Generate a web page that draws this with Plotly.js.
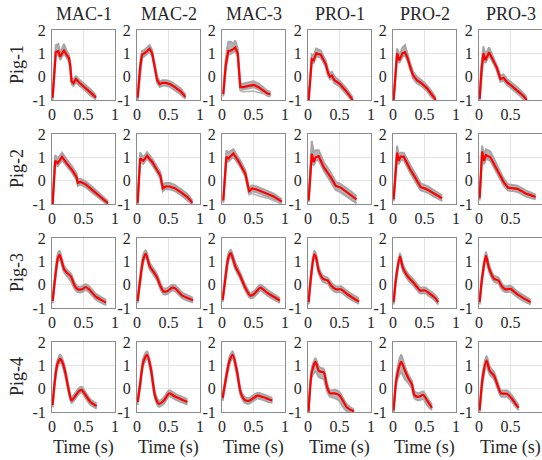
<!DOCTYPE html>
<html>
<head>
<meta charset="utf-8">
<script src="https://cdn.plot.ly/plotly-3.0.1.min.js"></script>
<style>html,body{margin:0;padding:0;background:#fff}#chart{width:542px;height:460px}</style>
</head>
<body>
<div id="chart"></div>
<script>
// ---- labels ----
const colNames = ['MAC-1','MAC-2','MAC-3','PRO-1','PRO-2','PRO-3'];
const rowNames = ['Pig-1','Pig-2','Pig-3','Pig-4'];
const xTickVals = [0, 0.5, 1];
const xTickText = ['0', '0.5', '1'];
const yTickVals = [-1, 0, 1, 2];
const yTickText = ['-1', '0', '1', '2'];
const xLabel = 'Time (s)';

// ---- Pig-1 ----
const t_1_1 = [0.01,0.06,0.10,0.13,0.16,0.19,0.23,0.27,0.29,0.31,0.34,0.38,0.43,0.50,0.60,0.70];
const mean_1_1 = [-0.9,1.05,1.1,0.85,1.0,1.12,0.95,0.78,0.45,-0.2,-0.28,-0.1,-0.25,-0.4,-0.65,-0.9];
const hi_1_1 = [-0.8,1.35,1.4,1.05,1.2,1.4,1.12,0.92,0.6,-0.05,-0.12,0.02,-0.12,-0.28,-0.52,-0.8];
const lo_1_1 = [-1.0,0.9,0.95,0.72,0.85,0.98,0.82,0.65,0.3,-0.32,-0.4,-0.25,-0.38,-0.52,-0.78,-0.98];

const t_1_2 = [0.01,0.05,0.08,0.12,0.16,0.20,0.24,0.28,0.32,0.36,0.40,0.46,0.53,0.60,0.69,0.77];
const mean_1_2 = [-0.9,0.4,0.95,1.0,1.1,1.2,1.0,0.5,-0.15,-0.32,-0.27,-0.27,-0.33,-0.45,-0.63,-0.87];
const hi_1_2 = [-0.8,0.6,1.1,1.15,1.25,1.35,1.15,0.65,0.0,-0.2,-0.15,-0.15,-0.2,-0.33,-0.5,-0.77];
const lo_1_2 = [-1.0,0.2,0.82,0.88,0.98,1.08,0.88,0.38,-0.28,-0.44,-0.39,-0.39,-0.45,-0.57,-0.75,-0.95];

const t_1_3 = [0.02,0.06,0.10,0.14,0.18,0.21,0.25,0.29,0.33,0.40,0.50,0.58,0.66,0.72,0.77];
const mean_1_3 = [-0.75,0.5,1.1,1.12,1.18,1.25,1.0,-0.45,-0.45,-0.4,-0.35,-0.45,-0.6,-0.72,-0.75];
const hi_1_3 = [-0.65,0.8,1.5,1.5,1.4,1.55,1.2,-0.3,-0.3,-0.25,-0.2,-0.3,-0.45,-0.6,-0.65];
const lo_1_3 = [-0.85,0.3,0.95,0.98,1.05,1.1,0.85,-0.55,-0.55,-0.5,-0.45,-0.55,-0.7,-0.82,-0.85];
const extraT_1_3 = [0.25,0.29,0.33,0.40,0.50,0.58,0.66,0.72,0.77];
const extra_1_3 = [0.9,-0.6,-0.65,-0.65,-0.62,-0.68,-0.75,-0.78,-0.78];

const t_1_4 = [0.01,0.04,0.06,0.09,0.13,0.20,0.24,0.28,0.32,0.35,0.38,0.42,0.50,0.60,0.71];
const mean_1_4 = [-1.0,0.2,0.75,0.7,1.0,0.95,0.75,0.55,0.15,0.0,0.05,-0.15,-0.3,-0.6,-1.0];
const hi_1_4 = [-0.9,0.45,0.95,0.9,1.2,1.12,0.9,0.7,0.3,0.15,0.2,0.0,-0.17,-0.47,-0.9];
const lo_1_4 = [-1.05,0.0,0.6,0.58,0.88,0.82,0.62,0.42,0.02,-0.12,-0.08,-0.28,-0.42,-0.72,-1.05];

const t_1_5 = [0.01,0.04,0.065,0.10,0.15,0.19,0.23,0.27,0.32,0.38,0.46,0.54,0.61,0.68];
const mean_1_5 = [-1.0,0.3,1.0,0.7,1.0,1.05,0.8,0.45,0.05,-0.15,-0.3,-0.5,-0.75,-1.0];
const hi_1_5 = [-0.9,0.55,1.2,0.9,1.25,1.35,0.95,0.6,0.2,0.0,-0.17,-0.37,-0.62,-0.9];
const lo_1_5 = [-1.05,0.1,0.85,0.58,0.85,0.92,0.68,0.32,-0.08,-0.28,-0.42,-0.62,-0.87,-1.05];

const t_1_6 = [0.01,0.04,0.07,0.10,0.16,0.20,0.24,0.28,0.31,0.34,0.39,0.45,0.50,0.57,0.63,0.70,0.76];
const mean_1_6 = [-0.95,0.3,1.0,0.7,1.05,0.85,0.6,0.4,0.15,-0.1,-0.05,-0.25,-0.35,-0.5,-0.65,-0.82,-1.0];
const hi_1_6 = [-0.85,0.55,1.3,0.95,1.25,1.0,0.75,0.55,0.3,0.05,0.1,-0.12,-0.22,-0.37,-0.52,-0.7,-0.9];
const lo_1_6 = [-1.05,0.1,0.85,0.58,0.9,0.72,0.48,0.28,0.02,-0.22,-0.17,-0.37,-0.47,-0.62,-0.77,-0.94,-1.05];

// ---- Pig-2 ----
const t_2_1 = [0.01,0.05,0.09,0.16,0.24,0.32,0.39,0.41,0.45,0.53,0.62,0.72,0.81,0.89];
const mean_2_1 = [-1.0,0.85,0.75,1.02,0.72,0.45,0.15,-0.1,-0.05,-0.15,-0.35,-0.58,-0.78,-0.97];
const hi_2_1 = [-0.9,1.1,0.95,1.2,0.88,0.6,0.3,0.05,0.08,-0.02,-0.22,-0.45,-0.66,-0.88];
const lo_2_1 = [-1.05,0.7,0.62,0.88,0.6,0.33,0.03,-0.22,-0.17,-0.27,-0.47,-0.7,-0.9,-1.05];

const t_2_2 = [0.01,0.05,0.10,0.16,0.24,0.32,0.37,0.41,0.45,0.52,0.60,0.70,0.80,0.88];
const mean_2_2 = [-0.95,0.95,0.85,1.07,0.8,0.47,0.22,-0.33,-0.25,-0.25,-0.32,-0.5,-0.7,-0.95];
const hi_2_2 = [-0.85,1.2,1.0,1.22,0.95,0.62,0.37,-0.18,-0.1,-0.1,-0.18,-0.37,-0.57,-0.85];
const lo_2_2 = [-1.05,0.8,0.72,0.95,0.68,0.35,0.1,-0.45,-0.37,-0.37,-0.44,-0.62,-0.82,-1.02];

const t_2_3 = [0.02,0.07,0.10,0.18,0.27,0.37,0.43,0.48,0.55,0.61,0.72,0.82,0.95];
const mean_2_3 = [-0.85,1.02,0.95,1.17,0.8,0.3,-0.45,-0.33,-0.38,-0.45,-0.55,-0.68,-0.9];
const hi_2_3 = [-0.75,1.3,1.2,1.35,0.95,0.45,-0.3,-0.2,-0.25,-0.32,-0.42,-0.56,-0.8];
const lo_2_3 = [-0.95,0.85,0.82,1.02,0.68,0.18,-0.57,-0.45,-0.5,-0.57,-0.67,-0.8,-1.0];
const extraT_2_3 = [0.37,0.43,0.48,0.55,0.61,0.72,0.82,0.95];
const extra_2_3 = [0.2,-0.6,-0.55,-0.62,-0.68,-0.75,-0.85,-1.0];

const t_2_4 = [0.01,0.04,0.06,0.09,0.12,0.17,0.25,0.36,0.44,0.52,0.60,0.68,0.77];
const mean_2_4 = [-0.85,0.6,1.15,0.8,1.0,1.05,0.58,0.15,-0.22,-0.3,-0.45,-0.6,-0.8];
const hi_2_4 = [-0.75,1.0,1.7,1.2,1.3,1.3,0.8,0.35,-0.05,-0.15,-0.3,-0.45,-0.67];
const lo_2_4 = [-0.92,0.4,0.95,0.65,0.85,0.88,0.42,-0.05,-0.4,-0.5,-0.65,-0.8,-0.97];

const t_2_5 = [0.01,0.04,0.065,0.09,0.12,0.17,0.27,0.38,0.44,0.50,0.56,0.63,0.70,0.78];
const mean_2_5 = [-0.8,0.5,1.2,0.85,1.03,1.03,0.5,0.0,-0.28,-0.33,-0.4,-0.52,-0.63,-0.75];
const hi_2_5 = [-0.7,0.8,1.5,1.1,1.2,1.2,0.68,0.18,-0.12,-0.18,-0.25,-0.38,-0.5,-0.63];
const lo_2_5 = [-0.88,0.3,1.0,0.7,0.88,0.88,0.35,-0.15,-0.42,-0.47,-0.53,-0.65,-0.76,-0.87];

const t_2_6 = [0.01,0.03,0.05,0.08,0.11,0.18,0.29,0.39,0.46,0.53,0.61,0.68,0.74,0.82,0.90];
const mean_2_6 = [-0.75,0.5,1.25,0.85,1.1,1.0,0.45,-0.05,-0.3,-0.32,-0.35,-0.45,-0.55,-0.62,-0.7];
const hi_2_6 = [-0.65,0.8,1.5,1.1,1.35,1.25,0.62,0.1,-0.15,-0.18,-0.22,-0.32,-0.42,-0.5,-0.6];
const lo_2_6 = [-0.85,0.3,1.05,0.7,0.95,0.85,0.3,-0.2,-0.42,-0.45,-0.48,-0.58,-0.67,-0.74,-0.8];

// ---- Pig-3 ----
const t_3_1 = [0.01,0.05,0.09,0.12,0.15,0.19,0.24,0.30,0.36,0.41,0.48,0.53,0.59,0.69,0.78,0.86];
const mean_3_1 = [-0.7,0.3,1.1,1.28,1.05,0.67,0.5,0.35,-0.05,-0.2,-0.2,-0.1,-0.2,-0.5,-0.65,-0.77];
const hi_3_1 = [-0.6,0.45,1.3,1.45,1.2,0.82,0.62,0.48,0.08,-0.08,-0.07,0.02,-0.07,-0.38,-0.53,-0.65];
const lo_3_1 = [-0.8,0.15,0.95,1.12,0.9,0.55,0.35,0.15,-0.18,-0.32,-0.32,-0.22,-0.33,-0.62,-0.77,-0.88];

const t_3_2 = [0.01,0.05,0.10,0.14,0.20,0.27,0.32,0.37,0.42,0.48,0.56,0.61,0.72,0.80,0.89];
const mean_3_2 = [-0.7,0.2,1.1,1.32,0.8,0.52,0.3,-0.05,-0.28,-0.28,-0.13,-0.17,-0.47,-0.57,-0.67];
const hi_3_2 = [-0.6,0.35,1.3,1.48,0.95,0.65,0.43,0.08,-0.15,-0.15,0.0,-0.04,-0.35,-0.45,-0.57];
const lo_3_2 = [-0.8,0.05,0.95,1.18,0.67,0.4,0.18,-0.17,-0.4,-0.4,-0.25,-0.29,-0.58,-0.68,-0.77];

const t_3_3 = [0.01,0.05,0.10,0.14,0.21,0.29,0.37,0.45,0.50,0.56,0.61,0.72,0.82,0.92];
const mean_3_3 = [-0.65,0.2,1.15,1.35,0.8,0.37,-0.13,-0.47,-0.42,-0.25,-0.13,-0.35,-0.52,-0.68];
const hi_3_3 = [-0.55,0.35,1.32,1.5,0.95,0.5,0.0,-0.35,-0.3,-0.12,0.0,-0.22,-0.4,-0.58];
const lo_3_3 = [-0.75,0.05,1.0,1.2,0.67,0.25,-0.25,-0.58,-0.54,-0.38,-0.25,-0.47,-0.63,-0.78];

const t_3_4 = [0.01,0.05,0.10,0.13,0.17,0.24,0.31,0.37,0.44,0.52,0.62,0.72,0.81];
const mean_3_4 = [-0.75,0.4,1.3,1.15,0.6,0.25,0.18,-0.05,-0.2,-0.2,-0.4,-0.58,-0.72];
const hi_3_4 = [-0.65,0.55,1.45,1.3,0.75,0.38,0.3,0.08,-0.08,-0.07,-0.27,-0.45,-0.6];
const lo_3_4 = [-0.85,0.25,1.15,1.0,0.47,0.12,0.05,-0.18,-0.32,-0.33,-0.52,-0.7,-0.82];

const t_3_5 = [0.01,0.05,0.11,0.16,0.24,0.32,0.38,0.43,0.51,0.59,0.66,0.72];
const mean_3_5 = [-0.75,0.3,1.2,0.7,0.33,0.1,-0.1,-0.25,-0.25,-0.4,-0.55,-0.75];
const hi_3_5 = [-0.65,0.45,1.35,0.85,0.46,0.23,0.03,-0.12,-0.12,-0.27,-0.42,-0.63];
const lo_3_5 = [-0.85,0.15,1.05,0.57,0.2,-0.03,-0.22,-0.37,-0.37,-0.52,-0.67,-0.85];

const t_3_6 = [0.01,0.05,0.11,0.16,0.24,0.31,0.36,0.42,0.50,0.61,0.72,0.82];
const mean_3_6 = [-0.75,0.3,1.23,0.7,0.25,0.18,-0.07,-0.2,-0.18,-0.42,-0.6,-0.75];
const hi_3_6 = [-0.65,0.45,1.4,0.85,0.38,0.3,0.06,-0.08,-0.05,-0.3,-0.48,-0.65];
const lo_3_6 = [-0.85,0.15,1.08,0.57,0.12,0.05,-0.2,-0.32,-0.3,-0.54,-0.72,-0.85];

// ---- Pig-4 ----
const t_4_1 = [0.01,0.04,0.08,0.13,0.17,0.21,0.27,0.31,0.36,0.43,0.47,0.53,0.61,0.71];
const mean_4_1 = [-0.7,0.2,1.0,1.28,1.1,0.7,-0.12,-0.5,-0.35,-0.1,-0.05,-0.27,-0.57,-0.75];
const hi_4_1 = [-0.6,0.35,1.15,1.45,1.25,0.85,0.02,-0.38,-0.22,0.03,0.08,-0.15,-0.45,-0.65];
const lo_4_1 = [-0.8,0.05,0.85,1.12,0.95,0.55,-0.25,-0.62,-0.47,-0.22,-0.17,-0.39,-0.69,-0.85];

const t_4_2 = [0.01,0.05,0.10,0.16,0.22,0.29,0.35,0.43,0.51,0.61,0.70,0.80];
const mean_4_2 = [-0.57,0.2,1.15,1.45,0.85,-0.35,-0.65,-0.5,-0.2,-0.35,-0.45,-0.57];
const hi_4_2 = [-0.45,0.35,1.3,1.6,1.0,-0.2,-0.52,-0.37,-0.07,-0.22,-0.33,-0.45];
const lo_4_2 = [-0.7,0.05,1.0,1.3,0.7,-0.48,-0.78,-0.63,-0.33,-0.47,-0.57,-0.68];

const t_4_3 = [0.01,0.06,0.12,0.17,0.24,0.30,0.37,0.43,0.50,0.56,0.66,0.74,0.80];
const mean_4_3 = [-0.4,0.4,1.2,1.45,0.7,-0.2,-0.5,-0.52,-0.4,-0.3,-0.37,-0.45,-0.5];
const hi_4_3 = [-0.28,0.55,1.35,1.6,0.85,-0.07,-0.37,-0.4,-0.28,-0.18,-0.25,-0.33,-0.4];
const lo_4_3 = [-0.52,0.25,1.05,1.3,0.55,-0.33,-0.62,-0.64,-0.52,-0.42,-0.49,-0.57,-0.6];

const t_4_4 = [0.01,0.06,0.12,0.17,0.21,0.25,0.30,0.35,0.42,0.49,0.55,0.61,0.67,0.73];
const mean_4_4 = [-0.98,0.7,1.15,0.77,0.72,0.7,0.1,-0.2,-0.2,-0.27,-0.5,-0.78,-0.9,-0.97];
const hi_4_4 = [-0.9,0.85,1.3,0.95,0.88,0.85,0.25,-0.07,-0.05,-0.12,-0.37,-0.65,-0.8,-0.9];
const lo_4_4 = [-1.02,0.5,0.75,0.5,0.45,0.4,-0.1,-0.35,-0.4,-0.5,-0.75,-0.95,-1.0,-1.02];

const t_4_5 = [0.01,0.06,0.13,0.19,0.24,0.30,0.34,0.40,0.48,0.54,0.62];
const mean_4_5 = [-0.93,0.5,1.15,0.77,0.47,0.18,-0.27,-0.35,-0.27,-0.5,-0.82];
const hi_4_5 = [-0.85,0.7,1.45,0.95,0.62,0.32,-0.12,-0.2,-0.12,-0.37,-0.7];
const lo_4_5 = [-1.0,0.3,0.7,0.4,0.25,0.0,-0.42,-0.5,-0.45,-0.7,-0.92];

const t_4_6 = [0.01,0.06,0.12,0.17,0.24,0.29,0.35,0.44,0.52,0.58,0.63];
const mean_4_6 = [-0.93,0.5,1.2,0.77,0.55,0.18,-0.2,-0.22,-0.42,-0.65,-0.82];
const hi_4_6 = [-0.85,0.7,1.4,0.95,0.7,0.32,-0.07,-0.08,-0.28,-0.52,-0.7];
const lo_4_6 = [-1.0,0.3,1.0,0.6,0.4,0.05,-0.33,-0.35,-0.55,-0.77,-0.92];

const panelData = [
  [[t_1_1,mean_1_1,hi_1_1,lo_1_1],[t_1_2,mean_1_2,hi_1_2,lo_1_2],[t_1_3,mean_1_3,hi_1_3,lo_1_3,extraT_1_3,extra_1_3],
   [t_1_4,mean_1_4,hi_1_4,lo_1_4],[t_1_5,mean_1_5,hi_1_5,lo_1_5],[t_1_6,mean_1_6,hi_1_6,lo_1_6]],
  [[t_2_1,mean_2_1,hi_2_1,lo_2_1],[t_2_2,mean_2_2,hi_2_2,lo_2_2],[t_2_3,mean_2_3,hi_2_3,lo_2_3,extraT_2_3,extra_2_3],
   [t_2_4,mean_2_4,hi_2_4,lo_2_4],[t_2_5,mean_2_5,hi_2_5,lo_2_5],[t_2_6,mean_2_6,hi_2_6,lo_2_6]],
  [[t_3_1,mean_3_1,hi_3_1,lo_3_1],[t_3_2,mean_3_2,hi_3_2,lo_3_2],[t_3_3,mean_3_3,hi_3_3,lo_3_3],
   [t_3_4,mean_3_4,hi_3_4,lo_3_4],[t_3_5,mean_3_5,hi_3_5,lo_3_5],[t_3_6,mean_3_6,hi_3_6,lo_3_6]],
  [[t_4_1,mean_4_1,hi_4_1,lo_4_1],[t_4_2,mean_4_2,hi_4_2,lo_4_2],[t_4_3,mean_4_3,hi_4_3,lo_4_3],
   [t_4_4,mean_4_4,hi_4_4,lo_4_4],[t_4_5,mean_4_5,hi_4_5,lo_4_5],[t_4_6,mean_4_6,hi_4_6,lo_4_6]]
];

// ---- layout geometry (pixels) ----
const W = 542, H = 460;
const colLeft = [52, 137, 222, 308, 393, 479];
const rowTop = [30, 134, 238, 342];
const boxW = 63, boxH = 70;
const FONT = 'Liberation Serif';
const TXT = '#262626';

const traces = [];
const layout = {
  width: W, height: H,
  margin: {l: 0, r: 0, t: 0, b: 0},
  paper_bgcolor: '#fff', plot_bgcolor: '#fff',
  showlegend: false,
  font: {family: FONT, color: TXT},
  annotations: []
};

let k = 0;
for (let r = 0; r < 4; r++) {
  for (let c = 0; c < 6; c++) {
    k++;
    const xa = k === 1 ? 'x' : 'x' + k;
    const ya = k === 1 ? 'y' : 'y' + k;
    const smooth = r >= 2;
    const shape = smooth ? 'spline' : 'linear';
    const d = panelData[r][c];
    const grayLine = {color: '#a6a6a6', width: 2, shape: shape, smoothing: 0.7};
    traces.push({x: d[0], y: d[2], xaxis: xa, yaxis: ya, mode: 'lines', line: grayLine, hoverinfo: 'skip'});
    traces.push({x: d[0], y: d[3], xaxis: xa, yaxis: ya, mode: 'lines', line: grayLine,
                 fill: 'tonexty', fillcolor: 'rgba(176,176,176,0.95)', hoverinfo: 'skip'});
    if (d[4]) {
      traces.push({x: d[4], y: d[5], xaxis: xa, yaxis: ya, mode: 'lines', line: {color: '#b4b4b4', width: 1.5}, hoverinfo: 'skip'});
    }
    traces.push({x: d[0], y: d[1], xaxis: xa, yaxis: ya, mode: 'lines',
                 line: {color: '#ff0000', width: 2.2, shape: shape, smoothing: 0.7}});

    const axCommon = {
      showline: true, mirror: true, linecolor: '#8c8c8c', linewidth: 1,
      showgrid: true, gridcolor: '#e4e4e4', gridwidth: 1,
      zeroline: false, ticks: '', fixedrange: true,
      tickfont: {family: FONT, size: 16, color: TXT}
    };
    layout['xaxis' + (k === 1 ? '' : k)] = Object.assign({}, axCommon, {
      domain: [colLeft[c] / W, (colLeft[c] + boxW) / W],
      range: [0, 1], tickmode: 'array', tickvals: xTickVals, ticktext: xTickText,
      anchor: ya
    });
    layout['yaxis' + (k === 1 ? '' : k)] = Object.assign({}, axCommon, {
      domain: [1 - (rowTop[r] + boxH) / H, 1 - rowTop[r] / H],
      range: [-1, 2], tickmode: 'array', tickvals: yTickVals, ticktext: yTickText,
      anchor: xa, ticklabelstandoff: 2
    });
  }
}

// column titles and x labels
for (let c = 0; c < 6; c++) {
  const cx = (colLeft[c] + boxW / 2) / W;
  layout.annotations.push({text: colNames[c], xref: 'paper', yref: 'paper', x: cx, y: 1 - 14 / H,
    showarrow: false, xanchor: 'center', yanchor: 'middle', font: {family: FONT, size: 18, color: TXT}});
  layout.annotations.push({text: xLabel, xref: 'paper', yref: 'paper', x: cx, y: 1 - 447 / H,
    showarrow: false, xanchor: 'center', yanchor: 'middle', font: {family: FONT, size: 18, color: TXT}});
}
// row labels
for (let r = 0; r < 4; r++) {
  layout.annotations.push({text: rowNames[r], xref: 'paper', yref: 'paper', x: 17 / W,
    y: 1 - (rowTop[r] + boxH / 2) / H, textangle: -90,
    showarrow: false, xanchor: 'center', yanchor: 'middle', font: {family: FONT, size: 18, color: TXT}});
}

Plotly.newPlot('chart', traces, layout, {displayModeBar: false, staticPlot: true});
</script>
</body>
</html>
